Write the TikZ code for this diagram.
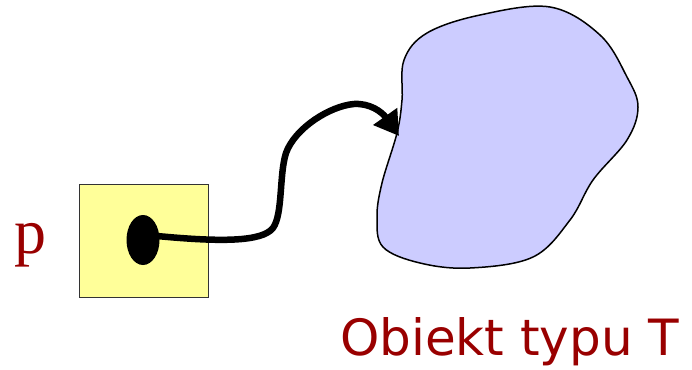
\documentclass[tikz,border=0pt]{standalone}
\usepackage{fontspec}
\setmainfont{Liberation Serif}
\newfontfamily\labelfont{DejaVu Sans}
\usetikzlibrary{arrows.meta}
\definecolor{dred}{HTML}{990000}
\definecolor{pyellow}{HTML}{FFFF99}
\definecolor{lav}{HTML}{CCCCFF}
\tikzset{
  varbox/.style={draw=black!80, line width=1pt, fill=pyellow, minimum width=129pt, minimum height=113pt, inner sep=0pt},
  dotshape/.style={ellipse, fill=black, minimum width=33pt, minimum height=50pt, inner sep=0pt},
  ptr/.style={line width=6.5pt, -{Triangle[length=24pt,width=28pt]}, line cap=round},
  lbl/.style={text=dred, inner sep=0pt}
}
\usetikzlibrary{shapes.geometric}
\begin{document}
\begin{tikzpicture}[x=1pt,y=-1pt]
\useasboundingbox (0,0) rectangle (692,369);
\fill[lav, draw=black, line width=1.5pt] plot[smooth cycle, tension=0.6] coordinates {
 (550,7) (600,35) (627,77) (638,107) (627,140) (593,180) (570,220) (533,257) (470,268) (420,263) (383,247) (377,217) (382,183) (397,133) (402,100) (404,60) (427,33) (480,15)};
\coordinate (tip) at (399,136);
\node[varbox] (box) at (143.5,240.5) {};
\node[dotshape] (dot) at (143,240) {};
\node[lbl, font=\fontsize{64}{64}\selectfont, anchor=base] (p) at (30,253) {p};
\node[lbl, font=\labelfont\fontsize{50}{50}\selectfont, anchor=base west] (obj) at (340,355) {Obiekt typu T};
\draw[ptr] (dot.center) ++(14,-4) .. controls (220,242) and (262,242) .. (273,228)
  .. controls (283,214) and (279,175) .. (286,153)
  .. controls (295,128) and (330,106) .. (354,104)
  .. controls (370,103) and (382,112) .. (tip);
\end{tikzpicture}
\end{document}
